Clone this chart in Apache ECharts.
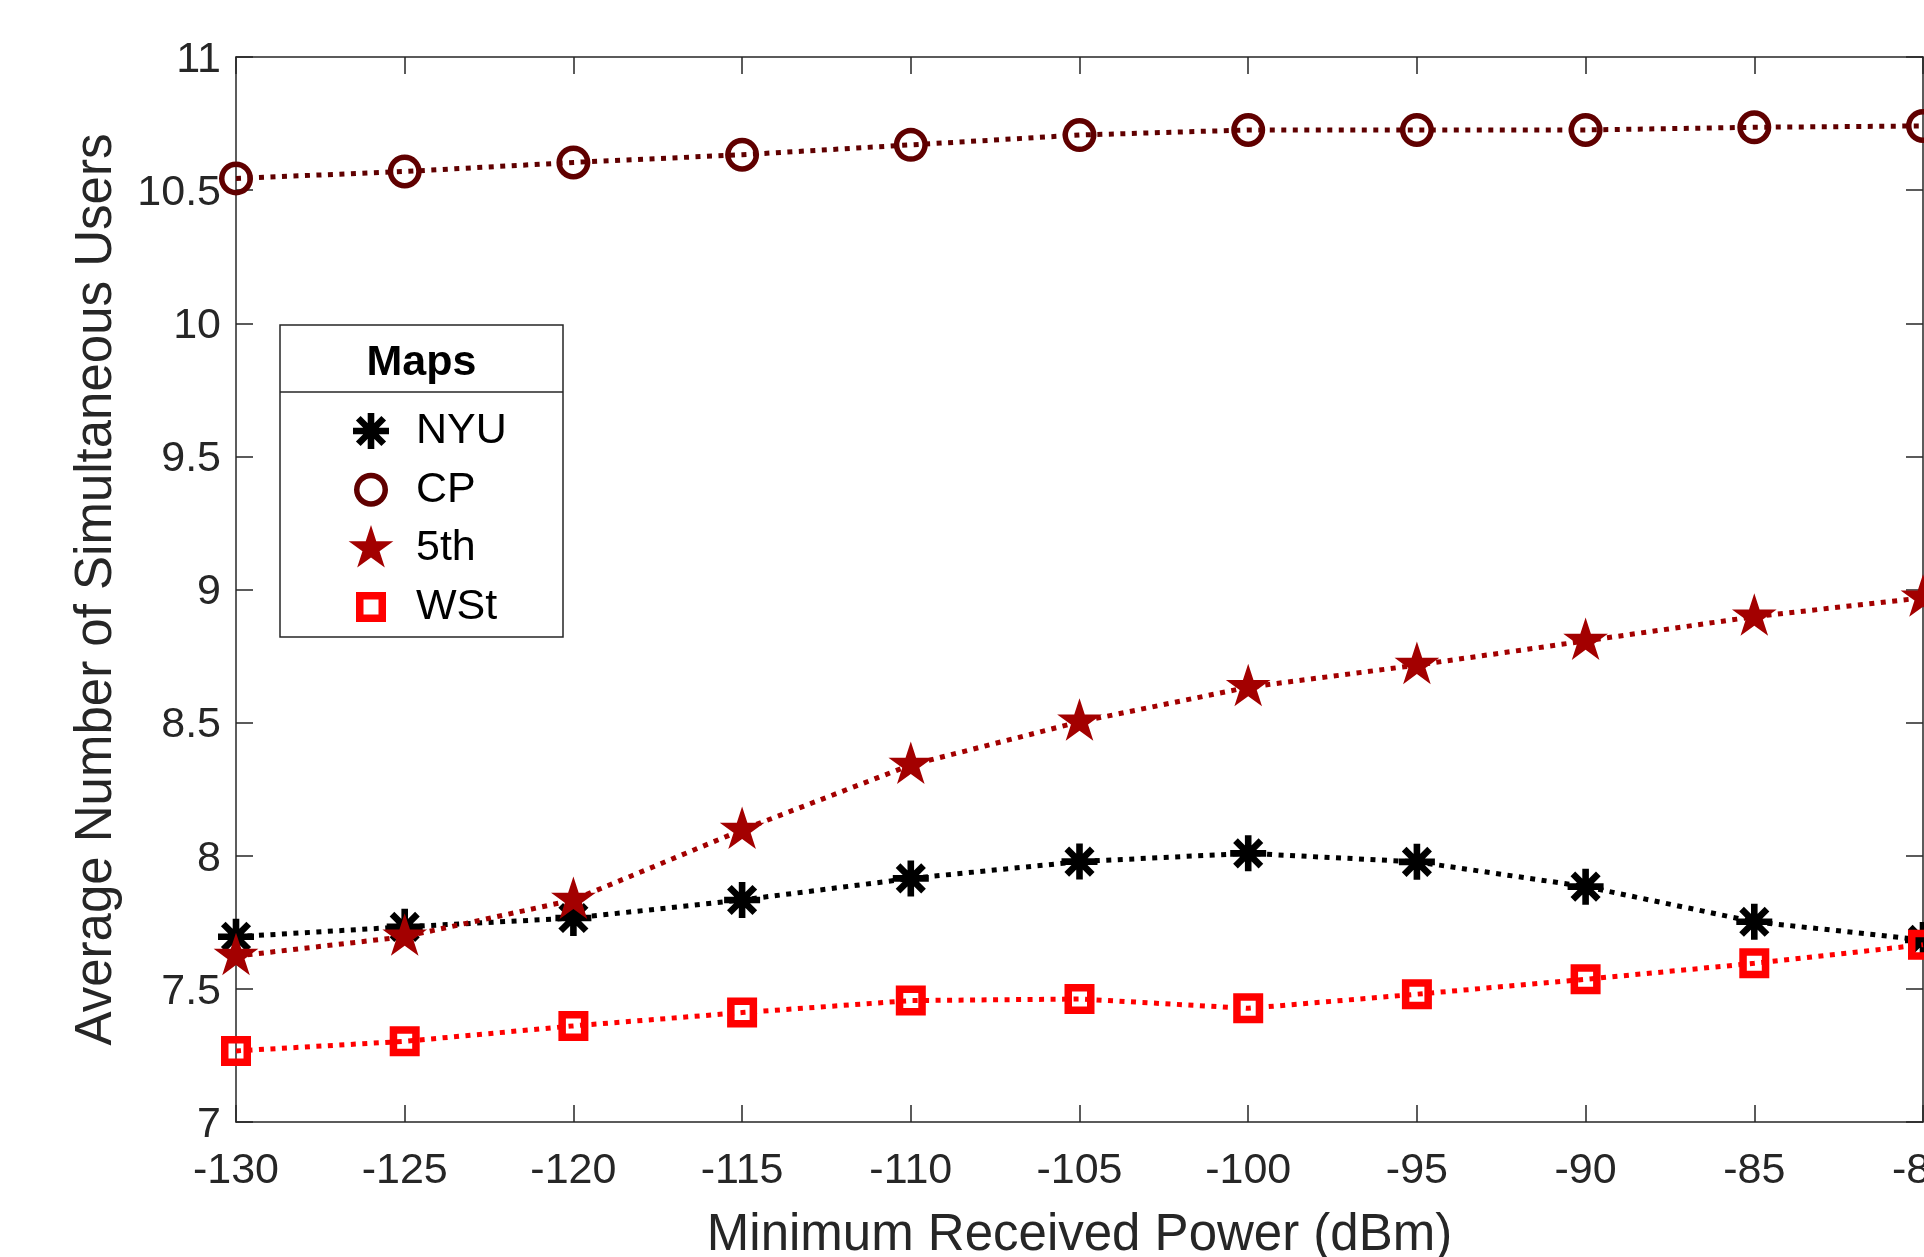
<!DOCTYPE html>
<html><head><meta charset="utf-8">
<script src="https://cdn.jsdelivr.net/npm/echarts@6/dist/echarts.min.js"></script>
<style>html,body{margin:0;padding:0;background:#fff}#c{width:1924px;height:1257px}</style>
</head><body><div id="c"></div>
<script>
// ---- data ----
const powerDbm   = [-130, -125, -120, -115, -110, -105, -100, -95, -90, -85, -80];
const nyuUsers   = [7.696, 7.733, 7.766, 7.834, 7.915, 7.978, 8.009, 7.977, 7.884, 7.752, 7.684];
const cpUsers    = [10.544, 10.570, 10.604, 10.633, 10.670, 10.707, 10.726, 10.726, 10.726, 10.736, 10.741];
const fifthUsers = [7.623, 7.696, 7.834, 8.097, 8.341, 8.503, 8.633, 8.716, 8.807, 8.898, 8.969];
const wstUsers   = [7.267, 7.303, 7.361, 7.411, 7.456, 7.462, 7.427, 7.480, 7.536, 7.596, 7.666];
const seriesNames = ['NYU', 'CP', '5th', 'WSt'];
const legendTitle = 'Maps';
const xTitle = 'Minimum Received Power (dBm)';
const yTitle = 'Average Number of Simultaneous Users';

// ---- marker shapes (filled outlines, frame -24..24) ----
const FONT = "'Liberation Sans', Arial, Helvetica, sans-serif";
const AX = '#262626';
const colors = ['#000000', '#600000', '#a30000', '#ff0000'];

function f(v) { return v.toFixed(2); }
function starShape(R) {
  let s = '';
  for (let k = 0; k < 10; k++) {
    const a = (-90 + k * 36) * Math.PI / 180;
    const r = (k % 2 === 0) ? R : R * 0.382;
    s += (k === 0 ? 'M' : 'L') + f(r * Math.cos(a)) + ',' + f(r * Math.sin(a));
  }
  return s + 'Z';
}
function barShape(angleDeg, L, t) {
  const a = angleDeg * Math.PI / 180, c = Math.cos(a), s = Math.sin(a);
  const pts = [[-L, -t], [L, -t], [L, t], [-L, t]].map(p => [p[0] * c - p[1] * s, p[0] * s + p[1] * c]);
  return 'M' + pts.map(p => f(p[0]) + ',' + f(p[1])).join('L') + 'Z';
}
function ringShape(R, r) {
  return `M${R},0A${R},${R},0,1,1,${-R},0A${R},${R},0,1,1,${R},0Z` +
         `M${r},0A${r},${r},0,1,0,${-r},0A${r},${r},0,1,0,${r},0Z`;
}
function squareRing(H, h) {
  return `M${-H},${-H}L${H},${-H}L${H},${H}L${-H},${H}Z` +
         `M${-h},${-h}L${-h},${h}L${h},${h}L${h},${-h}Z`;
}
const shapes = [
  [0, 45, 90, 135].map(a => barShape(a, 18, 3.3)).join(''),
  ringShape(17, 11.5),
  starShape(23.5),
  squareRing(15, 7.5)
];
const seriesFrame = 'M-24,-24M24,24';
const legendFrame = 'M-24,-24M40,24';
const seriesValues = [nyuUsers, cpUsers, fifthUsers, wstUsers];

const series = seriesNames.map((name, i) => ({
  type: 'line', name: name,
  data: powerDbm.map((x, j) => [x, seriesValues[i][j]]),
  symbol: 'path://' + seriesFrame + shapes[i],
  symbolSize: 48,
  lineStyle: {color: colors[i], width: 5, type: [5, 6.5]},
  itemStyle: {color: colors[i], borderWidth: 0},
  z: 2 + i * 0.1
}));

const axisLineStyle = {color: AX, width: 1.5};
const chart = echarts.init(document.getElementById('c'), null, {renderer: 'canvas'});
chart.setOption({
  animation: false,
  backgroundColor: '#fff',
  grid: {left: 236, right: 1, top: 57, bottom: 135, containLabel: false, outerBoundsMode: 'none'},
  xAxis: [{
    type: 'value', min: -130, max: -80, interval: 5, position: 'bottom',
    axisLine: {lineStyle: axisLineStyle},
    axisTick: {inside: true, length: 17, lineStyle: axisLineStyle},
    axisLabel: {fontSize: 43, color: AX, fontFamily: FONT, margin: 28},
    splitLine: {show: false},
    name: xTitle, nameLocation: 'middle', nameGap: 88,
    nameTextStyle: {fontSize: 51, color: AX, fontFamily: FONT}
  }, {
    type: 'value', min: -130, max: -80, interval: 5, position: 'top',
    axisLine: {lineStyle: axisLineStyle},
    axisTick: {inside: true, length: 17, lineStyle: axisLineStyle},
    axisLabel: {show: false}, splitLine: {show: false}
  }],
  yAxis: [{
    type: 'value', min: 7, max: 11, interval: 0.5, position: 'left',
    axisLine: {show: true, lineStyle: axisLineStyle},
    axisTick: {show: true, inside: true, length: 17, lineStyle: axisLineStyle},
    axisLabel: {
      margin: 15, formatter: '{t|{value}}',
      rich: {t: {fontSize: 43, color: AX, fontFamily: FONT, padding: [6, 0, 0, 0]}}
    },
    splitLine: {show: false},
    name: yTitle, nameLocation: 'middle', nameGap: 114,
    nameTextStyle: {fontSize: 51, color: AX, fontFamily: FONT}
  }, {
    type: 'value', min: 7, max: 11, interval: 0.5, position: 'right',
    axisLine: {show: true, lineStyle: axisLineStyle},
    axisTick: {show: true, inside: true, length: 17, lineStyle: axisLineStyle},
    axisLabel: {show: false}, splitLine: {show: false}
  }],
  legend: {
    orient: 'vertical', left: 347, top: 407, padding: 0,
    itemWidth: 64, itemHeight: 48, itemGap: 10.7,
    symbolKeepAspect: true, selectedMode: false, z: 6,
    textStyle: {fontSize: 43, lineHeight: 48, color: '#000', fontFamily: FONT},
    data: seriesNames.map((n, i) => ({
      name: n, icon: 'path://' + legendFrame + shapes[i],
      itemStyle: {color: colors[i], borderWidth: 0}
    }))
  },
  graphic: [
    {type: 'rect', shape: {x: 280, y: 325, width: 283, height: 312},
     style: {fill: '#fff', stroke: AX, lineWidth: 1.5}, z: 5},
    {type: 'line', shape: {x1: 280, y1: 392, x2: 563, y2: 392},
     style: {stroke: AX, lineWidth: 1.5}, z: 5},
    {type: 'text', x: 421.5, y: 363, z: 5,
     style: {text: legendTitle, fontSize: 43, fontWeight: 'bold', fontFamily: FONT,
             fill: '#000', align: 'center', verticalAlign: 'middle'}}
  ],
  series: series
});
</script></body></html>
